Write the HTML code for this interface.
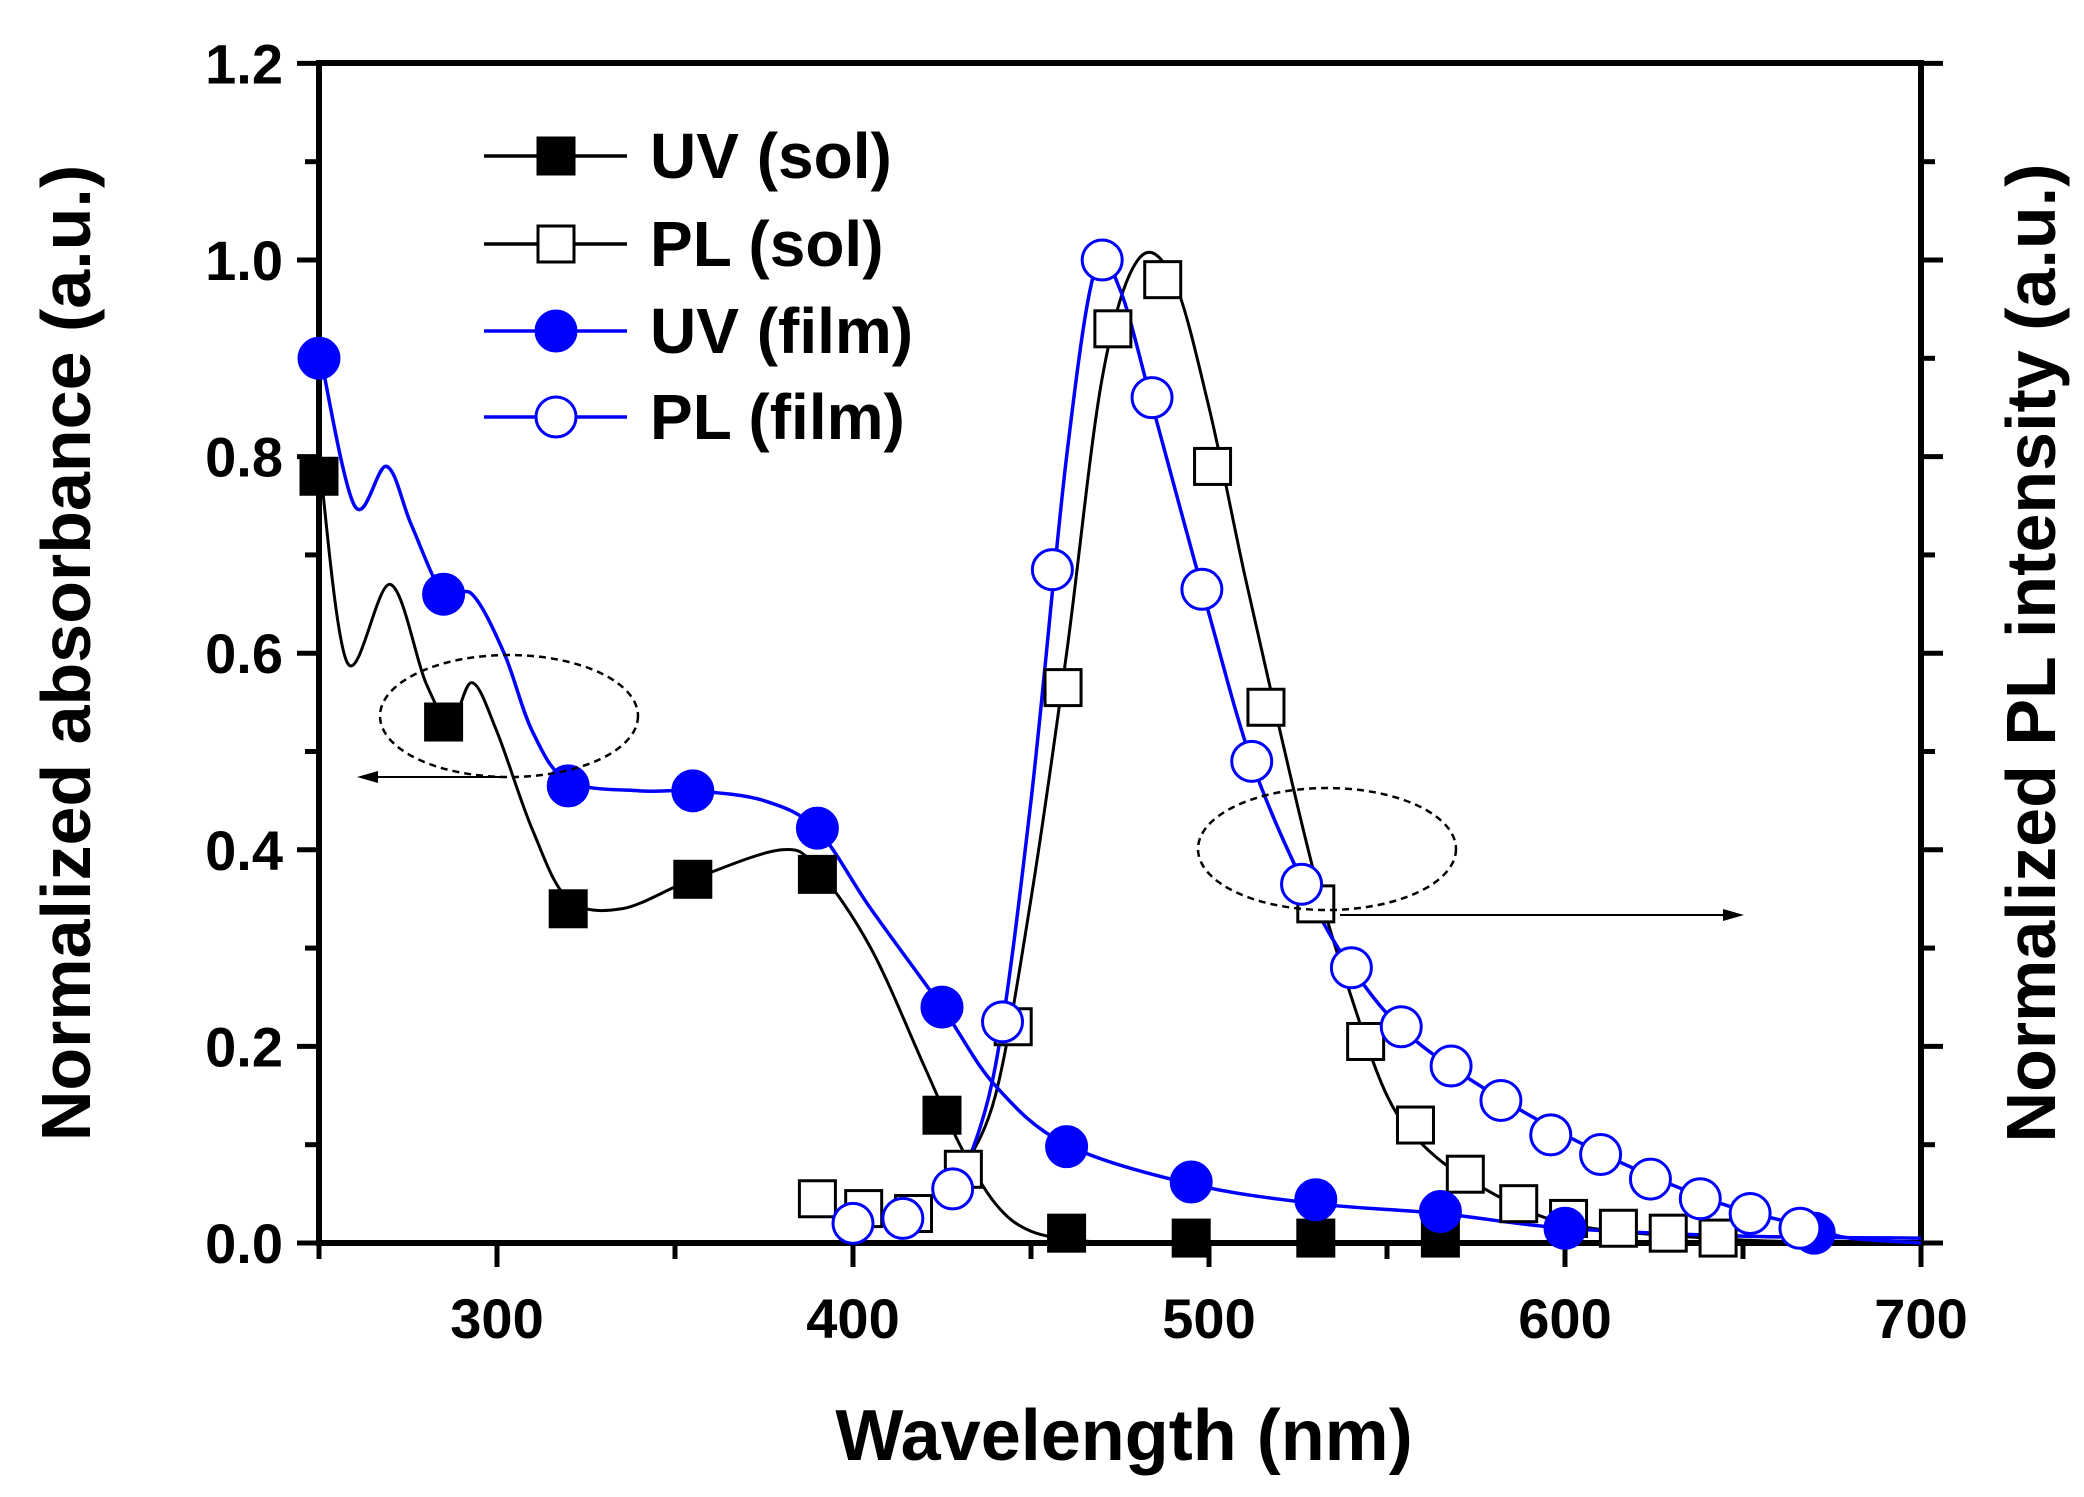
<!DOCTYPE html>
<html><head><meta charset="utf-8"><style>html,body{margin:0;padding:0;background:#fff}svg{display:block}</style></head>
<body>
<svg id="s" width="2084" height="1497" viewBox="0 0 2084 1497" xmlns="http://www.w3.org/2000/svg" font-family="Liberation Sans, Arial, sans-serif" font-weight="bold">
<rect width="2084" height="1497" fill="#fff"/>
<g id="ax"></g>
<g id="data"></g>
<ellipse cx="509" cy="716" rx="129" ry="61" fill="none" stroke="#000" stroke-width="2.5" stroke-dasharray="7,5"/>
<ellipse cx="1327" cy="849" rx="129" ry="61" fill="none" stroke="#000" stroke-width="2.5" stroke-dasharray="7,5"/>
<line x1="507" y1="777" x2="372" y2="777" stroke="#000" stroke-width="2"/>
<polygon points="357,777 378,771 378,783" fill="#000"/>
<line x1="1340" y1="915" x2="1728" y2="915" stroke="#000" stroke-width="2"/>
<polygon points="1744,915 1723,909 1723,921" fill="#000"/>
<text x="1124" y="1460" font-size="72" text-anchor="middle">Wavelength (nm)</text>
<text transform="translate(90,653) rotate(-90)" font-size="70" text-anchor="middle">Normalized absorbance (a.u.)</text>
<text transform="translate(2055,653) rotate(-90)" font-size="70" text-anchor="middle">Normalized PL intensity (a.u.)</text>
<g id="leg"></g>
</svg>
<script>
var NS="http://www.w3.org/2000/svg";
function X(w){return 319+(w-250)*3.56;}
function Y(v){return 1243-v*983;}
function el(p,t,a,txt){var e=document.createElementNS(NS,t);for(var k in a)e.setAttribute(k,a[k]);if(txt!==undefined)e.textContent=txt;p.appendChild(e);return e;}
var ax=document.getElementById('ax'),dg=document.getElementById('data'),lg=document.getElementById('leg');
var L=319,R=1921,T=63,B=1243;
el(ax,'rect',{x:L,y:T,width:R-L,height:B-T,fill:'none',stroke:'#000','stroke-width':6});
for(var i=0;i<=12;i++){var y=Y(i/10),len=(i%2==0)?22:14;
 el(ax,'line',{x1:L-len,y1:y,x2:L,y2:y,stroke:'#000','stroke-width':5});
 el(ax,'line',{x1:R,y1:y,x2:R+len,y2:y,stroke:'#000','stroke-width':5});
 if(i%2==0)el(ax,'text',{x:283,y:y+20,'font-size':56,'text-anchor':'end'},(i/10).toFixed(1));}
for(var w=250;w<=700;w+=50){var x=X(w),len=(w%100==0)?24:16;
 el(ax,'line',{x1:x,y1:B,x2:x,y2:B+len,stroke:'#000','stroke-width':5});
 if(w%100==0)el(ax,'text',{x:x,y:1338,'font-size':56,'text-anchor':'middle'},w);}
function path(pts){var P=pts.map(function(p){return[X(p[0]),Y(p[1])];});var d='M'+P[0][0]+','+P[0][1];
 for(var i=0;i<P.length-1;i++){var p0=P[Math.max(0,i-1)],p1=P[i],p2=P[i+1],p3=P[Math.min(P.length-1,i+2)];
 d+='C'+(p1[0]+(p2[0]-p0[0])/6)+','+(p1[1]+(p2[1]-p0[1])/6)+' '+(p2[0]-(p3[0]-p1[0])/6)+','+(p2[1]-(p3[1]-p1[1])/6)+' '+p2[0]+','+p2[1];}return d;}
var blue='#0000ff';
var uvs=[[250,0.8],[258,0.59],[270,0.67],[280,0.57],[287,0.53],[293,0.57],[300,0.52],[310,0.42],[320,0.35],[335,0.34],[355,0.37],[380,0.40],[390,0.38],[405,0.30],[420,0.18],[430,0.10],[440,0.04],[450,0.012],[465,0.002],[480,0]];
var uvf=[[250,0.91],[260,0.75],[269,0.79],[276,0.73],[285,0.66],[293,0.66],[302,0.6],[310,0.52],[320,0.47],[340,0.46],[355,0.46],[375,0.45],[390,0.42],[405,0.34],[425,0.24],[440,0.16],[460,0.10],[495,0.06],[530,0.04],[565,0.03],[600,0.015],[650,0.007],[700,0.005]];
var pls=[[430,0.07],[440,0.15],[450,0.35],[460,0.6],[470,0.88],[480,1.0],[490,0.98],[500,0.85],[510,0.68],[520,0.52],[530,0.37],[540,0.25],[550,0.15],[560,0.1],[575,0.06],[600,0.02],[640,0.005],[680,0],[700,0]];
var plf=[[430,0.06],[440,0.18],[450,0.45],[460,0.8],[468,0.99],[475,0.97],[485,0.84],[500,0.64],[512,0.49],[526,0.37],[540,0.28],[560,0.2],[600,0.11],[640,0.045],[670,0.015],[680,0.005],[700,0]];
el(dg,'path',{d:path(uvs),fill:'none',stroke:'#000','stroke-width':3});
el(dg,'path',{d:path(pls),fill:'none',stroke:'#000','stroke-width':3});
el(dg,'path',{d:path(uvf),fill:'none',stroke:blue,'stroke-width':3.5});
el(dg,'path',{d:path(plf),fill:'none',stroke:blue,'stroke-width':3.5});
function sq(x,y,f){el(dg,'rect',{x:x-18,y:y-18,width:36,height:36,fill:f?'#000':'#fff',stroke:'#000','stroke-width':3});}
function ci(x,y,f){el(dg,'circle',{cx:x,cy:y,r:20,fill:f?blue:'#fff',stroke:blue,'stroke-width':3});}
[[250,0.78],[285,0.53],[320,0.34],[355,0.37],[390,0.375],[425,0.13],[460,0.01],[495,0.005],[530,0.005],[565,0.005]].forEach(function(p){sq(X(p[0]),Y(p[1]),1);});
[[390,0.045],[403,0.035],[417,0.03],[431,0.075],[445,0.22],[459,0.565],[473,0.93],[487,0.98],[501,0.79],[516,0.545],[530,0.345],[544,0.205],[558,0.12],[572,0.07],[587,0.04],[601,0.025],[615,0.015],[629,0.01],[643,0.005]].forEach(function(p){sq(X(p[0]),Y(p[1]),0);});
[[250,0.9],[285,0.66],[320,0.465],[355,0.46],[390,0.422],[425,0.24],[460,0.098],[495,0.062],[530,0.044],[565,0.032],[600,0.015],[670,0.01]].forEach(function(p){ci(X(p[0]),Y(p[1]),1);});
[[400,0.02],[414,0.025],[428,0.055],[442,0.225],[456,0.685],[470,1.0],[484,0.86],[498,0.665],[512,0.49],[526,0.365],[540,0.28],[554,0.22],[568,0.18],[582,0.145],[596,0.11],[610,0.09],[624,0.065],[638,0.045],[652,0.03],[666,0.015]].forEach(function(p){ci(X(p[0]),Y(p[1]),0);});
var rows=[[156,'UV (sol)','#000',1,1],[244,'PL (sol)','#000',1,0],[331,'UV (film)',blue,0,1],[417,'PL (film)',blue,0,0]];
rows.forEach(function(r){el(lg,'line',{x1:484,y1:r[0],x2:627,y2:r[0],stroke:r[2],'stroke-width':3.5});
 var g=dg;dg=lg;if(r[3])sq(556,r[0],r[4]);else ci(556,r[0],r[4]);dg=g;
 el(lg,'text',{x:650,y:r[0]+22,'font-size':64},r[1]);});
</script>
</body></html>
